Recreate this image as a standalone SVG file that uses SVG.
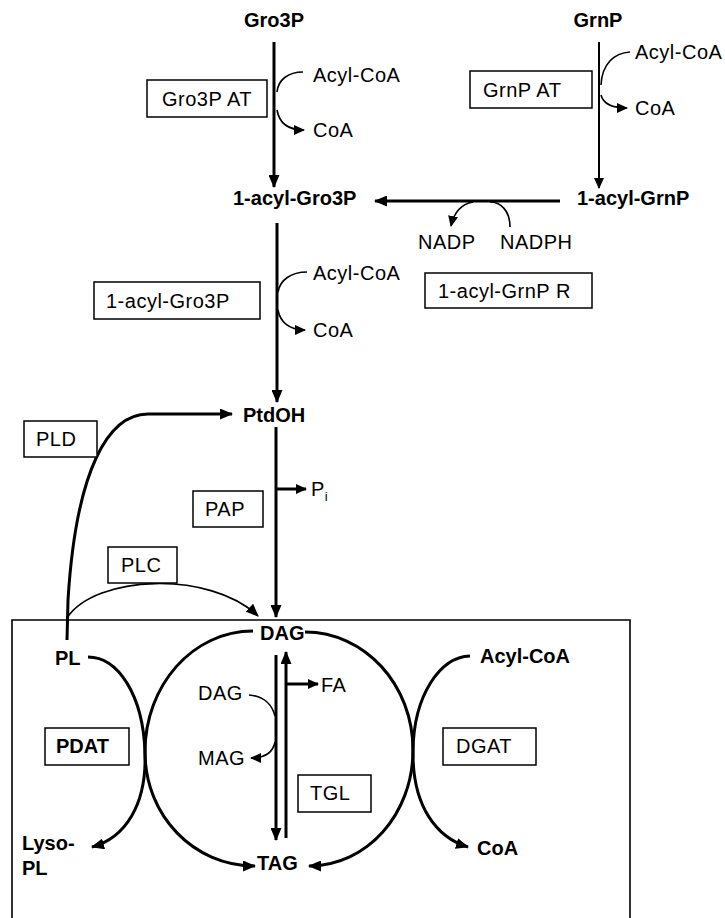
<svg xmlns="http://www.w3.org/2000/svg" width="725" height="918" viewBox="0 0 725 918">
<style>
text{font-family:"Liberation Sans",Arial,sans-serif;font-size:20px;fill:#000;letter-spacing:0.5px}
.b{font-weight:bold;letter-spacing:0}
.box{fill:#fff;stroke:#000;stroke-width:1.5}
.thick{fill:none;stroke:#000;stroke-width:3}
.thin{fill:none;stroke:#000;stroke-width:1.6}
</style>
<defs>
<marker id="ah" markerUnits="userSpaceOnUse" markerWidth="13" markerHeight="11" refX="12" refY="5.5" orient="auto"><path d="M0,0 L13,5.5 L0,11 z" fill="#000"/></marker>
<marker id="as" markerUnits="userSpaceOnUse" markerWidth="11" markerHeight="10" refX="10" refY="5" orient="auto"><path d="M0,0 L11,5 L0,10 z" fill="#000"/></marker>
</defs>
<rect width="725" height="918" fill="#fff"/>
<g id="connectors">
<path class="thin" d="M12,925 L12,620 L630,620 L630,925"/>
<path class="thick" d="M274,42 L274,187" marker-end="url(#ah)"/>
<path class="thin" d="M303,72 C288,72 278,80 277,92"/>
<path class="thin" d="M277,110 C279,122 286,130 304,130" marker-end="url(#as)"/>
<path class="thin" style="stroke-width:2" d="M599,42 L599,188" marker-end="url(#as)"/>
<path class="thin" d="M630,52 C614,53 602,64 601,85"/>
<path class="thin" d="M601,95 C603,103 612,108 627,108" marker-end="url(#as)"/>
<path class="thick" d="M560,201 L375,201" marker-end="url(#ah)"/>
<path class="thin" d="M510,227 C510,210 500,202 490,202"/>
<path class="thin" d="M473,202 C462,204 454,212 451,226" marker-end="url(#as)"/>
<path class="thick" d="M277,223 L277,402" marker-end="url(#ah)"/>
<path class="thin" d="M307,272 C291,272 280,280 278,292"/>
<path class="thin" d="M278,310 C280,321 288,330 305,330" marker-end="url(#as)"/>
<path class="thick" d="M276,427 L276,617" marker-end="url(#ah)"/>
<path class="thick" d="M277,489 L306,489" marker-end="url(#as)"/>
<path class="thick" d="M67,640 L68,600 C76,470 108,414 148,414 L232,414" marker-end="url(#ah)"/>
<path class="thin" d="M67,618 C95,575 210,570 258,616" marker-end="url(#ah)"/>
<path class="thick" d="M253,631 C193,631 145,685 145,752 C145,815 193,866 255,866" marker-end="url(#ah)"/>
<path class="thick" d="M305,632 C365,632 413,685 413,750 C413,814 367,866 309,866" marker-end="url(#ah)"/>
<path class="thick" d="M88,657 C118,657 143,695 145,752 C147,805 125,838 92,847" marker-end="url(#ah)"/>
<path class="thick" d="M470,656 C440,657 414,695 413,750 C412,808 438,838 468,847" marker-end="url(#ah)"/>
<path class="thick" d="M276,655 L276,840" marker-end="url(#ah)"/>
<path class="thick" d="M286,838 L286,652" marker-end="url(#ah)"/>
<path class="thick" d="M286,684 L318,684" marker-end="url(#as)"/>
<path class="thin" d="M249,695 C263,696 272,704 275,716"/>
<path class="thin" d="M275,742 C273,752 265,758 251,758" marker-end="url(#as)"/>
</g>
<g id="n-gro3p"><text class="b" x="274" y="27" text-anchor="middle">Gro3P</text></g>
<g id="n-grnp"><text class="b" x="598" y="27" text-anchor="middle">GrnP</text></g>
<g id="n-gro3pat"><rect class="box" x="147" y="80" width="120" height="37"/><text x="207" y="106" text-anchor="middle">Gro3P AT</text></g>
<g id="n-acylcoa1"><text x="313" y="82">Acyl-CoA</text></g>
<g id="n-coa1"><text x="313" y="137">CoA</text></g>
<g id="n-grnpat"><rect class="box" x="470" y="71" width="122" height="37"/><text x="483" y="97">GrnP AT</text></g>
<g id="n-acylcoa2"><text x="635" y="59">Acyl-CoA</text></g>
<g id="n-coa2"><text x="635" y="115">CoA</text></g>
<g id="n-acylgro3p"><text class="b" x="233" y="205">1-acyl-Gro3P</text></g>
<g id="n-acylgrnp"><text class="b" x="577" y="205">1-acyl-GrnP</text></g>
<g id="n-nadp"><text x="418" y="249">NADP</text></g>
<g id="n-nadph"><text x="500" y="249">NADPH</text></g>
<g id="n-acylgrnpr"><rect class="box" x="425" y="273" width="167" height="35"/><text x="438" y="298">1-acyl-GrnP R</text></g>
<g id="n-acylgro3pbox"><rect class="box" x="94" y="282" width="166" height="37"/><text x="106" y="308">1-acyl-Gro3P</text></g>
<g id="n-acylcoa3"><text x="313" y="280">Acyl-CoA</text></g>
<g id="n-coa3"><text x="313" y="337">CoA</text></g>
<g id="n-ptdoh"><text class="b" x="243" y="422">PtdOH</text></g>
<g id="n-pld"><rect class="box" x="24" y="421" width="73" height="36"/><text x="36" y="446">PLD</text></g>
<g id="n-pi"><text x="311" y="496">P<tspan font-size="13" dy="5">i</tspan></text></g>
<g id="n-pap"><rect class="box" x="193" y="491" width="70" height="36"/><text x="205" y="516">PAP</text></g>
<g id="n-plc"><rect class="box" x="108" y="547" width="69" height="36"/><text x="121" y="572">PLC</text></g>
<g id="n-dag"><text class="b" x="260" y="640">DAG</text></g>
<g id="n-pl"><text class="b" x="55" y="665">PL</text></g>
<g id="n-acylcoa4"><text class="b" x="480" y="663">Acyl-CoA</text></g>
<g id="n-fa"><text x="321" y="692">FA</text></g>
<g id="n-dag2"><text x="198" y="700">DAG</text></g>
<g id="n-mag"><text x="198" y="765">MAG</text></g>
<g id="n-pdat"><rect class="box" x="45" y="728" width="84" height="37"/><text class="b" x="56" y="753">PDAT</text></g>
<g id="n-dgat"><rect class="box" x="443" y="728" width="93" height="37"/><text x="456" y="753">DGAT</text></g>
<g id="n-tgl"><rect class="box" x="298" y="775" width="73" height="37"/><text x="310" y="800">TGL</text></g>
<g id="n-lysopl"><text class="b" x="22" y="850">Lyso-</text><text class="b" x="22" y="875">PL</text></g>
<g id="n-coa4"><text class="b" x="477" y="855">CoA</text></g>
<g id="n-tag"><text class="b" x="257" y="870">TAG</text></g>
</svg>
